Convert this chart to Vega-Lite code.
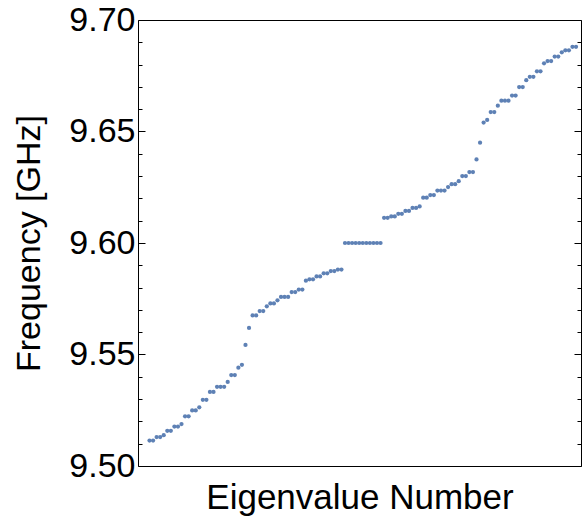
{
  "$schema": "https://vega.github.io/schema/vega-lite/v6.json",
  "autosize": "none",
  "padding": {"left": 138, "top": 20, "right": 1, "bottom": 53},
  "width": 443,
  "height": 446,
  "background": "white",
  "config": {
    "view": {"stroke": "black", "strokeWidth": 1},
    "font": "Liberation Sans"
  },
  "data": {"values": [
    {"n":1,"f":9.5114},{"n":2,"f":9.5114},{"n":3,"f":9.5130},{"n":4,"f":9.5130},{"n":5,"f":9.5138},
    {"n":6,"f":9.5158},{"n":7,"f":9.5158},{"n":8,"f":9.5177},{"n":9,"f":9.5177},{"n":10,"f":9.5188},
    {"n":11,"f":9.5223},{"n":12,"f":9.5223},{"n":13,"f":9.5249},{"n":14,"f":9.5249},{"n":15,"f":9.5263},
    {"n":16,"f":9.5297},{"n":17,"f":9.5297},{"n":18,"f":9.5332},{"n":19,"f":9.5332},{"n":20,"f":9.5355},
    {"n":21,"f":9.5355},{"n":22,"f":9.5355},{"n":23,"f":9.5377},{"n":24,"f":9.5408},{"n":25,"f":9.5408},
    {"n":26,"f":9.5441},{"n":27,"f":9.5454},{"n":28,"f":9.5543},{"n":29,"f":9.5619},{"n":30,"f":9.5675},
    {"n":31,"f":9.5675},{"n":32,"f":9.5695},{"n":33,"f":9.5695},{"n":34,"f":9.5716},{"n":35,"f":9.5729},
    {"n":36,"f":9.5729},{"n":37,"f":9.5743},{"n":38,"f":9.5758},{"n":39,"f":9.5758},{"n":40,"f":9.5758},
    {"n":41,"f":9.5780},{"n":42,"f":9.5780},{"n":43,"f":9.5791},{"n":44,"f":9.5791},{"n":45,"f":9.5831},
    {"n":46,"f":9.5837},{"n":47,"f":9.5837},{"n":48,"f":9.5850},{"n":49,"f":9.5850},{"n":50,"f":9.5864},
    {"n":51,"f":9.5864},{"n":52,"f":9.5874},{"n":53,"f":9.5874},{"n":54,"f":9.5881},{"n":55,"f":9.5881},
    {"n":56,"f":9.6000},{"n":57,"f":9.6000},{"n":58,"f":9.6000},{"n":59,"f":9.6000},{"n":60,"f":9.6000},
    {"n":61,"f":9.6000},{"n":62,"f":9.6000},{"n":63,"f":9.6000},{"n":64,"f":9.6000},{"n":65,"f":9.6000},
    {"n":66,"f":9.6000},{"n":67,"f":9.6113},{"n":68,"f":9.6113},{"n":69,"f":9.6119},{"n":70,"f":9.6119},
    {"n":71,"f":9.6131},{"n":72,"f":9.6131},{"n":73,"f":9.6144},{"n":74,"f":9.6144},{"n":75,"f":9.6157},
    {"n":76,"f":9.6157},{"n":77,"f":9.6164},{"n":78,"f":9.6203},{"n":79,"f":9.6203},{"n":80,"f":9.6215},
    {"n":81,"f":9.6215},{"n":82,"f":9.6235},{"n":83,"f":9.6235},{"n":84,"f":9.6235},{"n":85,"f":9.6251},
    {"n":86,"f":9.6264},{"n":87,"f":9.6264},{"n":88,"f":9.6277},{"n":89,"f":9.6300},{"n":90,"f":9.6300},
    {"n":91,"f":9.6318},{"n":92,"f":9.6318},{"n":93,"f":9.6375},{"n":94,"f":9.6450},{"n":95,"f":9.6540},
    {"n":96,"f":9.6552},{"n":97,"f":9.6587},{"n":98,"f":9.6587},{"n":99,"f":9.6616},{"n":100,"f":9.6638},
    {"n":101,"f":9.6638},{"n":102,"f":9.6638},{"n":103,"f":9.6661},{"n":104,"f":9.6661},{"n":105,"f":9.6699},
    {"n":106,"f":9.6699},{"n":107,"f":9.6730},{"n":108,"f":9.6745},{"n":109,"f":9.6745},{"n":110,"f":9.6770},
    {"n":111,"f":9.6770},{"n":112,"f":9.6806},{"n":113,"f":9.6816},{"n":114,"f":9.6816},{"n":115,"f":9.6836},
    {"n":116,"f":9.6836},{"n":117,"f":9.6855},{"n":118,"f":9.6864},{"n":119,"f":9.6864},{"n":120,"f":9.6880},
    {"n":121,"f":9.6880}
  ]},
  "layer": [
    {
      "mark": {"type": "point", "filled": true, "size": 18, "opacity": 1, "color": "#5E81B5"},
      "encoding": {
        "x": {
          "field": "n", "type": "quantitative",
          "scale": {"domain": [-2.24, 122.4], "nice": false, "zero": false},
          "axis": {"title": "Eigenvalue Number", "labels": false, "ticks": false, "domain": false, "grid": false,
                   "titleFont": "Liberation Sans", "titleFontSize": 35, "titleFontWeight": "normal", "titleColor": "black", "titlePadding": 14}
        },
        "y": {
          "field": "f", "type": "quantitative",
          "scale": {"domain": [9.5, 9.7], "nice": false, "zero": false},
          "axis": {
            "orient": "left",
            "values": [9.50,9.51,9.52,9.53,9.54,9.55,9.56,9.57,9.58,9.59,9.60,9.61,9.62,9.63,9.64,9.65,9.66,9.67,9.68,9.69,9.70],
            "labelExpr": "abs(datum.value*20 - round(datum.value*20)) < 0.001 ? format(datum.value, '.2f') : ''",
            "tickSize": {"condition": {"test": "abs(datum.value*20 - round(datum.value*20)) < 0.001", "value": -7}, "value": -4},
            "tickColor": "black", "tickWidth": 1,
            "domain": false, "grid": false,
            "labelFont": "Liberation Sans", "labelFontSize": 34, "labelColor": "black", "labelPadding": 10,
            "labelOverlap": false, "labelFlush": false,
            "title": "Frequency [GHz]", "titleFont": "Liberation Sans", "titleFontSize": 34, "titleFontWeight": "normal", "titleColor": "black", "titlePadding": 22
          }
        }
      }
    },
    {
      "mark": {"type": "point", "opacity": 0},
      "encoding": {
        "y": {
          "field": "f", "type": "quantitative",
          "axis": {
            "orient": "right",
            "values": [9.50,9.51,9.52,9.53,9.54,9.55,9.56,9.57,9.58,9.59,9.60,9.61,9.62,9.63,9.64,9.65,9.66,9.67,9.68,9.69,9.70],
            "labels": false,
            "tickSize": {"condition": {"test": "abs(datum.value*20 - round(datum.value*20)) < 0.001", "value": -7}, "value": -4},
            "tickColor": "black", "tickWidth": 1,
            "domain": false, "grid": false, "title": null
          }
        }
      }
    }
  ],
  "resolve": {"axis": {"y": "independent"}}
}
